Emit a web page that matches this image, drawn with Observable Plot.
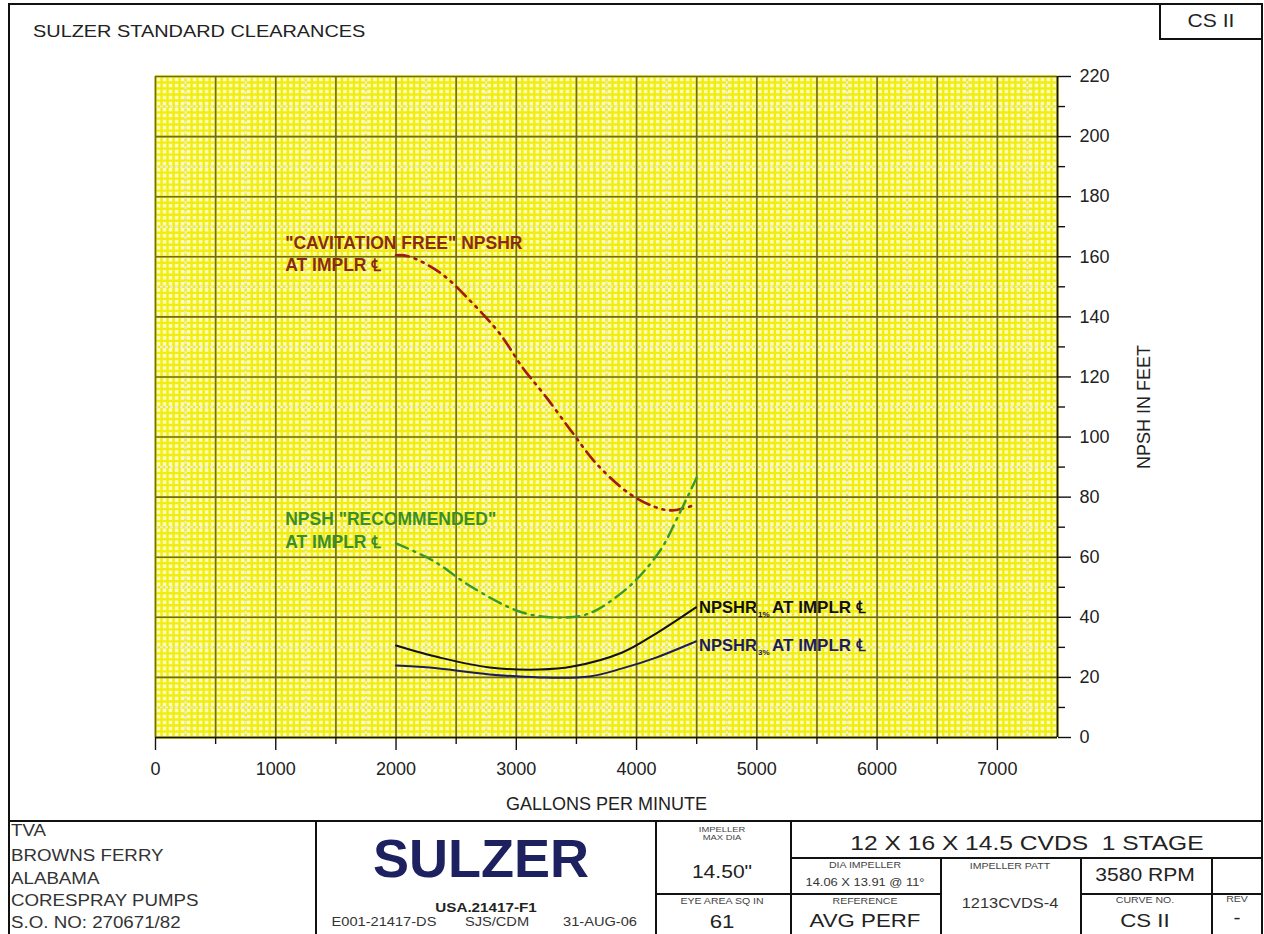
<!DOCTYPE html>
<html><head><meta charset="utf-8">
<script src="https://cdn.jsdelivr.net/npm/d3@7"></script>
<script src="https://cdn.jsdelivr.net/npm/@observablehq/plot@0.6"></script>
<style>
body{margin:0;background:#fff;font-family:"Liberation Sans",Arial,sans-serif;color:#222;}
#page{position:relative;width:1264px;height:934px;overflow:hidden;background:#fff;}
.box{position:absolute;box-sizing:border-box;}
.t{position:absolute;white-space:nowrap;line-height:1;}
.c{transform:translate(-50%,-50%) scaleX(1.17);}
.l{transform:translate(0,-50%) scaleX(1.17);transform-origin:left center;}
#chart{position:absolute;left:0;top:0;}
</style></head><body><div id="page"><div id="chart"></div></div>
<script>
// ---- data ----
const gpmCavitation = [2000, 2100, 2363, 2637, 2861, 3051, 3250, 3466, 3665, 3939, 4162, 4295, 4494];
const npshCavitation = [160.5, 160.2, 154.8, 144.5, 134.5, 123.2, 113.2, 101.5, 91.2, 81.2, 76.6, 75.6, 77.5];
const gpmRecommended = [2000, 2305, 2637, 3051, 3383, 3607, 3881, 4046, 4212, 4328, 4500];
const npshRecommended = [64.6, 58.9, 49.9, 41.6, 39.9, 41.3, 48.3, 54.6, 63.2, 72.2, 86.5];
const gpmNpshr1 = [2000, 2363, 2778, 3192, 3466, 3881, 4162, 4494];
const npshNpshr1 = [30.6, 26.6, 23.3, 22.6, 23.6, 28.3, 34.6, 43.3];
const gpmNpshr3 = [2000, 2280, 2778, 3192, 3607, 3881, 4162, 4494];
const npshNpshr3 = [24.0, 23.3, 21.0, 20.0, 20.3, 23.0, 26.6, 32.0];
const xTicks = [0, 1000, 2000, 3000, 4000, 5000, 6000, 7000];
const yTicks = [0, 20, 40, 60, 80, 100, 120, 140, 160, 180, 200, 220];
const curveLabels = [
  {key: "cav", line1: "\"CAVITATION FREE\" NPSHR", line2: "AT IMPLR \u2104", x: 1078, y1: 164.4, y2: 157.1},
  {key: "rec", line1: "NPSH \"RECOMMENDED\"", line2: "AT IMPLR \u2104", x: 1078, y1: 72.6, y2: 64.9}
];
const npshrLabels = [
  {key: "n1", main: "NPSHR", sub: "1%", rest: "AT IMPLR \u2104", x: 4520, y: 43.3},
  {key: "n3", main: "NPSHR", sub: "3%", rest: "AT IMPLR \u2104", x: 4520, y: 30.6}
];
const titleText = "SULZER STANDARD CLEARANCES";
const curveNoBox = "CS II";
const xLabel = "GALLONS PER MINUTE";
const yLabel = "NPSH IN FEET";
const customerLines = ["TVA", "BROWNS FERRY", "ALABAMA", "CORESPRAY PUMPS", "S.O. NO: 270671/82"];
const brand = "SULZER";
const docNo = "USA.21417-F1";
const docRefs = ["E001-21417-DS", "SJS/CDM", "31-AUG-06"];
const pumpModel = "12 X 16 X 14.5 CVDS  1 STAGE";
const tableCells = {
  maxDiaHead: ["IMPELLER", "MAX DIA"], maxDia: "14.50\"",
  eyeHead: "EYE AREA SQ IN", eye: "61",
  diaHead: "DIA IMPELLER", dia: "14.06 X 13.91 @ 11\u00b0",
  refHead: "REFERENCE", ref: "AVG PERF",
  pattHead: "IMPELLER PATT", patt: "1213CVDS-4",
  rpm: "3580 RPM", curveHead: "CURVE NO.", curve: "CS II",
  revHead: "REV", rev: "-"
};

const zip = (xs, ys) => xs.map((x, i) => ({gpm: x, npsh: ys[i]}));
const cav = zip(gpmCavitation, npshCavitation);
const rec = zip(gpmRecommended, npshRecommended);
const n1 = zip(gpmNpshr1, npshNpshr1);
const n3 = zip(gpmNpshr3, npshNpshr3);

const colors = {cav: "#a01a10", rec: "#3a982a", n1: "#111111", n3: "#1d1d5c", cavText: "#8a2a12", recText: "#3a8e2a"};

const fineX = d3.range(0, 7501, 50), fineY = d3.range(0, 221, 2);
const midX = d3.range(250, 7500, 500), midY = d3.range(10, 220, 20);
const majX = d3.range(0, 7501, 500), majY = d3.range(0, 221, 20);
const minorXTicks = d3.range(500, 7500, 1000), minorYTicks = d3.range(10, 220, 20);

const chart = Plot.plot({
  width: 1264, height: 820,
  marginLeft: 155, marginRight: 207, marginTop: 76, marginBottom: 83,
  x: {domain: [0, 7500]},
  y: {domain: [0, 220]},
  style: {fontFamily: "'Liberation Sans', Arial, sans-serif", background: "transparent", color: "#222"},
  marks: [
    Plot.frame({fill: "#fdfcb8", stroke: null}),
    Plot.ruleX(fineX, {stroke: "#f1ec12", strokeWidth: 2.4}),
    Plot.ruleY(fineY, {stroke: "#f1ec12", strokeWidth: 2.4}),
    Plot.ruleX(midX, {stroke: "#ecebdc", strokeWidth: 2, strokeDasharray: "3,2"}),
    Plot.ruleY(midY, {stroke: "#ecebdc", strokeWidth: 2, strokeDasharray: "3,2"}),
    Plot.ruleX(majX, {stroke: "#6f6a1e", strokeWidth: 1.6}),
    Plot.ruleY(majY, {stroke: "#6f6a1e", strokeWidth: 1.6}),
    Plot.ruleY([0], {stroke: "#111", strokeWidth: 1.6}),
    Plot.ruleX([7500], {stroke: "#111", strokeWidth: 1.6}),
    Plot.axisX({ticks: xTicks, tickSize: 13, tickPadding: 12, fontSize: 18, tickFormat: d => String(d),
      label: xLabel, labelAnchor: "center", labelOffset: 72, labelArrow: "none", stroke: "#111", strokeWidth: 1.4}),
    Plot.axisX({ticks: minorXTicks, tickSize: 7, text: null, label: null, stroke: "#111", strokeWidth: 1.4}),
    Plot.axisY({anchor: "right", ticks: yTicks, tickSize: 13, tickPadding: 9, fontSize: 18,
      label: yLabel, labelAnchor: "center", labelOffset: 92, labelArrow: "none", stroke: "#111", strokeWidth: 1.4}),
    Plot.axisY({anchor: "right", ticks: minorYTicks, tickSize: 7, text: null, label: null, stroke: "#111", strokeWidth: 1.4}),
    Plot.line(cav, {x: "gpm", y: "npsh", curve: "catmull-rom", stroke: colors.cav, strokeWidth: 2.6, strokeDasharray: "13,6,2,6,2,6"}),
    Plot.line(rec, {x: "gpm", y: "npsh", curve: "catmull-rom", stroke: colors.rec, strokeWidth: 2.4, strokeDasharray: "13,6,2,6"}),
    Plot.line(n1, {x: "gpm", y: "npsh", curve: "catmull-rom", stroke: colors.n1, strokeWidth: 2}),
    Plot.line(n3, {x: "gpm", y: "npsh", curve: "catmull-rom", stroke: colors.n3, strokeWidth: 2}),
    Plot.text(curveLabels.filter(d => d.key === "cav"), {x: "x", y: "y1", text: "line1", textAnchor: "start", fill: colors.cavText, fontSize: 17.5, fontWeight: "bold"}),
    Plot.text(curveLabels.filter(d => d.key === "cav"), {x: "x", y: "y2", text: "line2", textAnchor: "start", fill: colors.cavText, fontSize: 17.5, fontWeight: "bold"}),
    Plot.text(curveLabels.filter(d => d.key === "rec"), {x: "x", y: "y1", text: "line1", textAnchor: "start", fill: colors.recText, fontSize: 17.5, fontWeight: "bold"}),
    Plot.text(curveLabels.filter(d => d.key === "rec"), {x: "x", y: "y2", text: "line2", textAnchor: "start", fill: colors.recText, fontSize: 17.5, fontWeight: "bold"}),
    ...npshrLabels.map(d => [
      Plot.text([d], {x: "x", y: "y", text: "main", textAnchor: "start", fill: colors[d.key], fontSize: 16.5, fontWeight: "bold"}),
      Plot.text([d], {x: "x", y: "y", text: "sub", textAnchor: "start", dx: 59, dy: 7, fill: colors[d.key], fontSize: 8, fontWeight: "bold"}),
      Plot.text([d], {x: "x", y: "y", text: "rest", textAnchor: "start", dx: 73, fill: colors[d.key], fontSize: 17, fontWeight: "bold"})
    ]).flat()
  ]
});
document.getElementById("chart").appendChild(chart);

// ---- page decorations: border, title, table ----
const page = document.getElementById("page");
function box(l, t, w, h, css) { const d = document.createElement("div"); d.className = "box"; Object.assign(d.style, {left: l + "px", top: t + "px", width: w + "px", height: h + "px"}, css || {}); page.appendChild(d); return d; }
function hline(x1, x2, y) { box(x1, y, x2 - x1, 1.6, {background: "#111"}); }
function vline(x, y1, y2) { box(x, y1, 1.6, y2 - y1, {background: "#111"}); }
function txt(s, x, y, size, cls, css) { const d = document.createElement("div"); d.className = "t " + (cls || "c"); d.textContent = s; Object.assign(d.style, {left: x + "px", top: y + "px", fontSize: size + "px"}, css || {}); page.appendChild(d); return d; }

// outer frame
hline(8, 1262, 3); vline(8, 3, 934); vline(1261, 3, 934);
// CS II box
vline(1159, 3, 39); hline(1159, 1262, 38);
txt(curveNoBox, 1211, 21, 18);
txt(titleText, 33, 31, 17, "l", {color: "#222"});

// table
hline(8, 1262, 820);
vline(315, 820, 934); vline(655, 820, 934); vline(790, 820, 934);
hline(790, 1262, 857);
vline(940, 857, 934); vline(1080, 857, 934); vline(1211, 857, 934);
hline(655, 940, 893); hline(1080, 1262, 893);

const custY = [831, 856, 879, 901, 923];
customerLines.forEach((s, i) => txt(s, 11, custY[i], 16, "l", {color: "#333"}));
txt(brand, 481, 858, 54, "c", {fontWeight: "bold", color: "#1e2160", transform: "translate(-50%,-50%)"});
txt(docNo, 486, 907, 13, "c", {fontWeight: "bold", color: "#222"});
[384, 497, 600].forEach((x, i) => txt(docRefs[i], x, 922, 12.5, "c", {color: "#333"}));

txt(tableCells.maxDiaHead[0], 722, 830, 8, "c", {color: "#444"});
txt(tableCells.maxDiaHead[1], 722, 838, 8, "c", {color: "#444"});
txt(tableCells.maxDia, 722, 872, 18, "c", {color: "#222"});
txt(tableCells.eyeHead, 722, 901, 9, "c", {color: "#444"});
txt(tableCells.eye, 722, 921, 19, "c", {color: "#222"});

txt(pumpModel, 1027, 842, 21, "c", {color: "#222", whiteSpace: "pre"});
txt(tableCells.diaHead, 865, 865, 9, "c", {color: "#444"});
txt(tableCells.dia, 865, 882, 11, "c", {color: "#333"});
txt(tableCells.refHead, 865, 901, 9, "c", {color: "#444"});
txt(tableCells.ref, 865, 920, 19, "c", {color: "#222"});
txt(tableCells.pattHead, 1010, 866, 9, "c", {color: "#444"});
txt(tableCells.patt, 1010, 903, 14, "c", {color: "#333"});
txt(tableCells.rpm, 1145, 875, 18, "c", {color: "#222"});
txt(tableCells.curveHead, 1145, 900, 9, "c", {color: "#444"});
txt(tableCells.curve, 1145, 920, 19, "c", {color: "#222"});
txt(tableCells.revHead, 1237, 899, 9, "c", {color: "#444"});
txt(tableCells.rev, 1237, 918, 18, "c", {color: "#222"});
</script></body></html>
